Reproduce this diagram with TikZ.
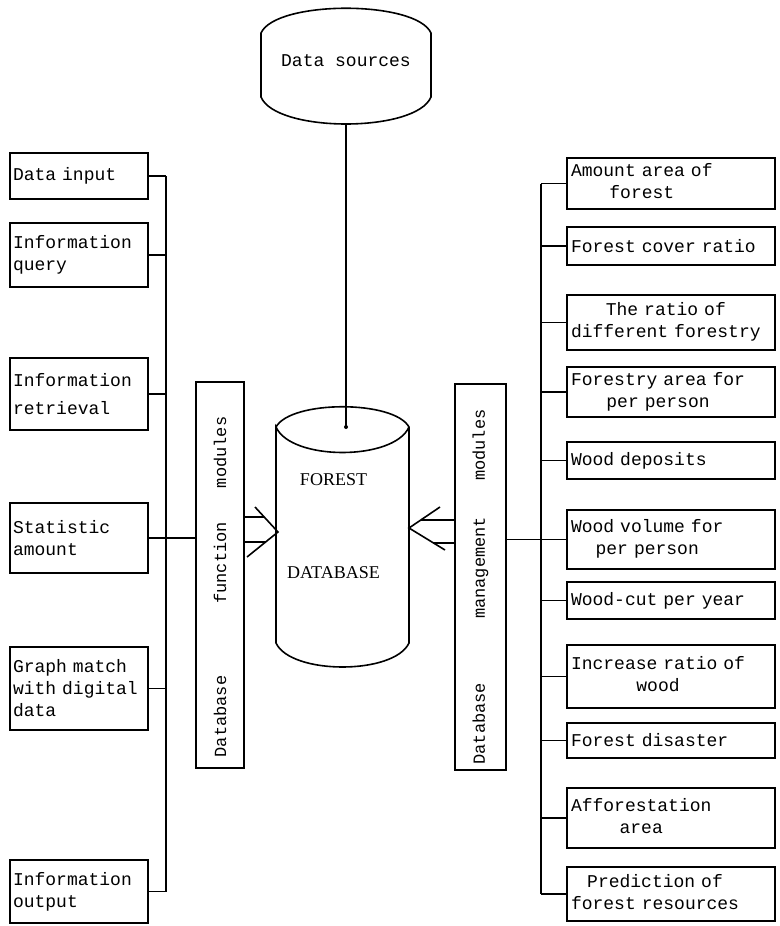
\documentclass[tikz,border=0pt]{standalone}
\usepackage{fontspec}
\setmainfont{Liberation Serif}
\setmonofont{Liberation Mono}
\usepackage{graphicx}
\usetikzlibrary{positioning, calc}

\newcommand{\twoline}[2]{\begin{tabular}{@{}c@{}}#1\\#2\end{tabular}}

\begin{document}
\begin{tikzpicture}[x=1pt, y=-1pt,
    line width=1.6pt,
    lbox/.style={rectangle, draw, font=\ttfamily\fontsize{18}{22}\selectfont, outer sep=0pt,
                 text width=132pt, inner xsep=3pt, inner ysep=2pt, align=left},
    rbox/.style={lbox, text width=200pt, inner xsep=4pt},
    modbox/.style={rectangle, draw, font=\ttfamily\fontsize{17}{20}\selectfont,
                   minimum height=386pt, inner sep=0pt, outer sep=0pt},
    dblabel/.style={font=\fontsize{18}{20}\selectfont, inner sep=0pt},
]
\useasboundingbox (0,0) rectangle (779,926);

% data sources and database
\node[minimum width=170pt, minimum height=64pt, inner sep=0pt, outer sep=0pt,
      font=\ttfamily\fontsize{18}{22}\selectfont] (src) at (346,65) {\raisebox{9pt}{Data sources}};
\draw (src.north west) .. controls +(15,-33) and +(-15,-33) .. (src.north east) -- (src.south east)
      .. controls +(-15,36) and +(15,36) .. (src.south west) -- cycle;

\node[minimum width=133pt, minimum height=216pt, inner sep=0pt, outer sep=0pt] (db) at (342.5,535) {};
\draw (db.north west) .. controls +(15,-27) and +(-15,-27) .. (db.north east)
      .. controls +(-15,34) and +(15,34) .. (db.north west) -- (db.south west)
      .. controls +(15,32) and +(-15,32) .. (db.south east) -- (db.north east);
\node[dblabel] (forest) at ($(db.center)+(-9,-55)$) {FOREST};
\node[dblabel] (dbname) at ($(db.center)+(-9,38)$) {DATABASE};

\coordinate (dbdot) at (src.south |- db.north);
\draw ($(src.south)+(0,27)$) -- (dbdot);
\fill (dbdot) circle (2pt);

% module boxes
\node[modbox, minimum width=48pt] (func) at (220,575)
    {\rotatebox{90}{Database\hspace{72pt}function\hspace{34pt}modules\hspace{24pt}}};
\node[modbox, minimum width=51pt] (mgmt) at (480.5,577)
    {\rotatebox{90}{Database\hspace{64pt}management\hspace{36pt}modules\hspace{20pt}}};

% left column
\node[lbox, minimum height=46pt] (din) at (79,176) {Data input};
\node[lbox, minimum height=64pt, below=24pt of din] (iq) {Information\\query};
\node[lbox, minimum height=72pt, below=71pt of iq] (ir) {Information\\[6pt]retrieval};
\node[lbox, minimum height=70pt, below=73pt of ir] (stat) {Statistic\\amount};
\node[lbox, minimum height=83pt, below=74pt of stat] (gm) {Graph match\\with digital\\data};
\node[lbox, minimum height=63pt, below=130pt of gm] (iout) {Information\\output};

% right column
\node[rbox, minimum height=51pt] (amt) at (671,183.5) {\twoline{Amount area of}{forest}};
\node[rbox, minimum height=38pt, below=18pt of amt] (cov) {Forest cover ratio};
\node[rbox, minimum height=55pt, below=30pt of cov] (rat) {\twoline{The ratio of}{different forestry}};
\node[rbox, minimum height=50pt, below=17pt of rat] (fpp) {\twoline{Forestry area for}{per person}};
\node[rbox, minimum height=37pt, below=25pt of fpp] (wd) {Wood deposits};
\node[rbox, minimum height=59pt, below=31pt of wd] (wv) {\twoline{Wood volume for}{per person}};
\node[rbox, minimum height=37pt, below=13pt of wv] (wc) {Wood-cut per year};
\node[rbox, minimum height=63pt, below=26pt of wc] (inc) {\twoline{Increase ratio of}{wood}};
\node[rbox, minimum height=35pt, below=15pt of inc] (dis) {Forest disaster};
\node[rbox, minimum height=60pt, below=30pt of dis] (aff) {\twoline{Afforestation}{area}};
\node[rbox, minimum height=54pt, below=19pt of aff] (pre) {\twoline{Prediction of}{forest resources}};

% buses
\coordinate (lbus) at (166,0);
\coordinate (rbus) at (541,0);
\foreach \b in {din,iq,ir,stat,gm,iout}
    \draw (\b.east) -- (\b.east -| lbus);
\draw (din.east -| lbus) -- (iout.east -| lbus);
\draw (stat.east) -- (stat.east -| func.west);

\foreach \b in {amt,cov,rat,fpp,wd,wv,wc,inc,dis,aff,pre}
    \draw (\b.west) -- (\b.west -| rbus);
\draw (amt.west -| rbus) -- (pre.west -| rbus);
\draw (wv.west -| mgmt.east) -- (wv.west -| rbus);

% double arrows into the database
\coordinate (ltip) at ($(db.west)+(2,-3)$);
\draw ($(ltip)+(-23,-25)$) -- (ltip) -- ($(ltip)+(-31,25)$);
\coordinate (lu) at ($(ltip)+(-14,-15)$);
\coordinate (ll) at ($(ltip)+(-12,10)$);
\draw (lu -| func.east) -- (lu);
\draw (ll -| func.east) -- (ll);

\coordinate (rtip) at ($(db.east)+(0,-7)$);
\draw ($(rtip)+(31,-21)$) -- (rtip) -- ($(rtip)+(36,22)$);
\coordinate (ru) at ($(rtip)+(12,-8)$);
\coordinate (rl) at ($(rtip)+(24,15)$);
\draw (ru) -- (ru -| mgmt.west);
\draw (rl) -- (rl -| mgmt.west);

\end{tikzpicture}
\end{document}
